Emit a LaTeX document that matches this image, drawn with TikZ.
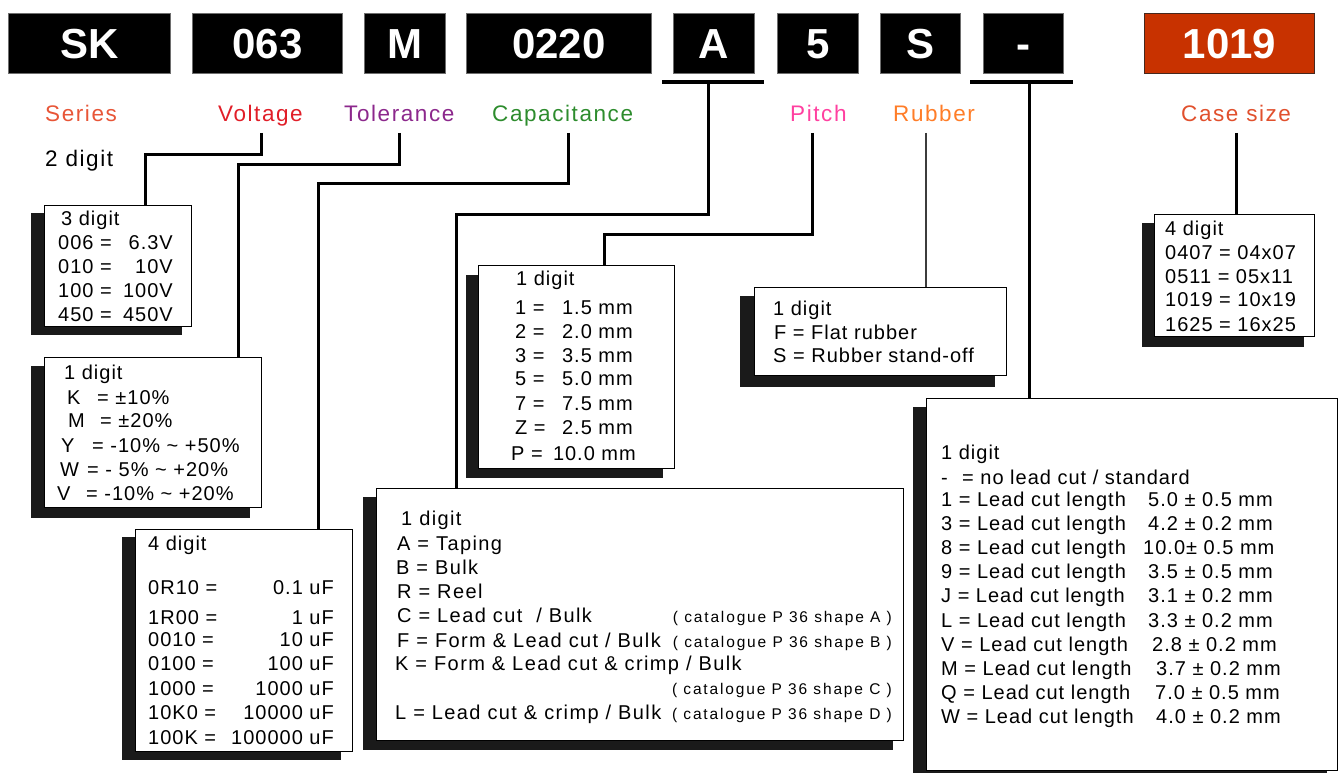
\documentclass[tikz,border=0pt]{standalone}
\usepackage{fontspec}
\setmainfont{Liberation Sans}
\newfontfamily\boxf[LetterSpace=5]{Liberation Sans}
\newfontfamily\pkgf[LetterSpace=7]{Liberation Sans}
\newfontfamily\lblf[LetterSpace=7]{Liberation Sans}
\newfontfamily\smallf[LetterSpace=12]{Liberation Sans}
\definecolor{shadowc}{RGB}{26,26,26}
\definecolor{hdrborder}{RGB}{110,110,110}
\definecolor{casefill}{RGB}{200,50,0}
\definecolor{seriesc}{RGB}{232,85,55}
\definecolor{voltc}{RGB}{225,30,40}
\definecolor{tolc}{RGB}{140,40,140}
\definecolor{capc}{RGB}{45,140,45}
\definecolor{pitchc}{RGB}{255,64,160}
\definecolor{rubc}{RGB}{255,125,40}
\definecolor{casec}{RGB}{225,80,45}
\tikzset{
  hdr/.style={draw=hdrborder, line width=1pt, fill=black, text=white,
    font=\fontsize{42}{42}\selectfont\bfseries, text height=30.5pt, text depth=0pt,
    inner sep=0pt, anchor=north west, minimum height=60pt},
  panel/.style={draw=black, line width=1.3pt, fill=white, anchor=north west, inner sep=0pt},
  shade/.style={fill=shadowc},
  lbl/.style={font=\lblf\fontsize{22.5}{24}\selectfont, anchor=base west, inner sep=0pt},
  bt/.style={font=\boxf\fontsize{20}{24}\selectfont, anchor=base west, inner sep=0pt},
  btr/.style={bt, anchor=base east},
  pt/.style={font=\pkgf\fontsize{20}{24}\selectfont, anchor=base west, inner sep=0pt},
  sm/.style={font=\smallf\fontsize{15.5}{17}\selectfont, anchor=base east, inner sep=0pt},
  conn/.style={line width=3pt},
  thinconn/.style={line width=1.5pt, draw={rgb,255:red,60;green,60;blue,60}},
  bar/.style={line width=4pt}
}
\begin{document}
\begin{tikzpicture}[x=1pt,y=-1pt]
\useasboundingbox (0,0) rectangle (1338,773);
\fill[white] (0,0) rectangle (1338,773);

% header boxes
\node[hdr, minimum width=162pt] (hSK) at (8,13) {SK};
\node[hdr, minimum width=150pt] (hV) at (192,13) {063};
\node[hdr, minimum width=81pt] (hT) at (364,13) {M};
\node[hdr, minimum width=185pt] (hC) at (466,13) {0220};
\node[hdr, minimum width=81pt] (hA) at (673,13) {A};
\node[hdr, minimum width=81pt] (hP) at (777,13) {5};
\node[hdr, minimum width=80pt] (hR) at (880,13) {S};
\node[hdr, minimum width=80pt] (hD) at (983,13) {-};
\node[hdr, minimum width=170pt, fill=casefill, draw={rgb,255:red,70;green,40;blue,30}] (hK) at (1144,13) {1019};

% labels
\node[lbl, text=seriesc] (lS) at (45,122) {Series};
\node[lbl, text=voltc] (lV) at (218,122) {Voltage};
\node[lbl, text=tolc] (lT) at (344,122) {Tolerance};
\node[lbl, text=capc] (lC) at (492,122) {Capacitance};
\node[lbl, text=pitchc] (lP) at (790,122) {Pitch};
\node[lbl, text=rubc] (lR) at (893,122) {Rubber};
\node[lbl, text=casec] (lK) at (1181,122) {Case size};
\node[lbl, text=black] (l2) at (45,166) {2 digit};

% shadows
\fill[shade] (31,213) rectangle (182,335);
\fill[shade] (31,366) rectangle (250,518);
\fill[shade] (122,537) rectangle (341,760);
\fill[shade] (466,275) rectangle (663,478);
\fill[shade] (740,296) rectangle (995,387);
\fill[shade] (1142,223) rectangle (1304,347);
\fill[shade] (913,407) rectangle (1327,773);
\fill[shade] (363,497) rectangle (893,750);

% panels
\node[panel, minimum width=147pt, minimum height=121pt] (vbox) at (44,205) {};
\node[panel, minimum width=217pt, minimum height=150pt] (tbox) at (44,357) {};
\node[panel, minimum width=217pt, minimum height=222pt] (cbox) at (135,529) {};
\node[panel, minimum width=196pt, minimum height=203pt] (pbox) at (478,265) {};
\node[panel, minimum width=252pt, minimum height=88pt] (rbox) at (754,287) {};
\node[panel, minimum width=160pt, minimum height=122pt] (kbox) at (1154,214) {};
\node[panel, minimum width=411pt, minimum height=372pt] (lbox) at (926,398) {};
\node[panel, minimum width=527pt, minimum height=252pt] (abox) at (376,488) {};

% connectors
\coordinate (vA) at (261,133); \coordinate (vB) at (145,154);
\draw[conn] (vA) |- (vB) -- (vB |- vbox.north);
\coordinate (tA) at (399,133); \coordinate (tB) at (238,164);
\draw[conn] (tA) |- (tB) -- (tB |- tbox.north);
\coordinate (cA) at (568,133); \coordinate (cB) at (318,183);
\draw[conn] (cA) |- (cB) -- (cB |- cbox.north);
\coordinate (aL) at (662,82); \coordinate (aR) at (764,82);
\draw[bar] (aL) -- (aR);
\coordinate (aA) at (708,82); \coordinate (aB) at (456,214);
\draw[conn] (aA) |- (aB) -- (aB |- abox.north);
\coordinate (pA) at (812,133); \coordinate (pB) at (604,234);
\draw[conn] (pA) |- (pB) -- (pB |- pbox.north);
\coordinate (rA) at (926,133);
\draw[thinconn] (rA) -- (rA |- rbox.north);
\coordinate (dL) at (970,82); \coordinate (dR) at (1073,82);
\draw[bar] (dL) -- (dR);
\coordinate (dA) at (1029,82);
\draw[conn] (dA) -- (dA |- lbox.north);
\coordinate (kA) at (1236,133);
\draw[conn] (kA) -- (kA |- kbox.north);

% voltage box text
\node[bt] (v0) at (61,225) {3 digit};
\foreach \a/\b [count=\i] in {006 =/6.3V, 010 =/10V, 100 =/100V, 450 =/450V} {
  \node[bt] (va\i) at (58,{249+(\i-1)*24.3}) {\a};
  \node[btr] (vb\i) at (173,{249+(\i-1)*24.3}) {\b};
}

% tolerance box text
\node[bt] (t0) at (64,379) {1 digit};
\node[bt] (ta1) at (67,404) {K}; \node[bt] (tb1) at (97,404) {= ±10\%};
\node[bt] (ta2) at (68,427) {M}; \node[bt] (tb2) at (100,427) {= ±20\%};
\node[bt] (ta3) at (61,452) {Y}; \node[bt] (tb3) at (92,452) {= -10\% \textasciitilde\ +50\%};
\node[bt] (ta4) at (60,476) {W}; \node[bt] (tb4) at (87,476) {= - 5\% \textasciitilde\ +20\%};
\node[bt] (ta5) at (57,500) {V}; \node[bt] (tb5) at (86,500) {= -10\% \textasciitilde\ +20\%};

% capacitance box text
\node[bt] (c0) at (148,550) {4 digit};
\foreach \a/\b/\y [count=\i] in {0R10 =/0.1 uF/594, 1R00 =/1 uF/624, 0010 =/10 uF/646, 0100 =/100 uF/670, 1000 =/1000 uF/695, 10K0 =/10000 uF/719, 100K =/100000 uF/744} {
  \node[bt] (ca\i) at (148,\y) {\a};
  \node[btr] (cb\i) at (334,\y) {\b};
}

% pitch box text
\node[bt] (p0) at (516,285) {1 digit};
\foreach \a/\b/\y [count=\i] in {1 =/1.5 mm/314, 2 =/2.0 mm/338, 3 =/3.5 mm/362, 5 =/5.0 mm/385, 7 =/7.5 mm/410, Z =/2.5 mm/434} {
  \node[bt] (pa\i) at (515,\y) {\a};
  \node[btr] (pb\i) at (633,\y) {\b};
}
\node[bt] (pa7) at (511,460) {P =};
\node[btr] (pb7) at (636,460) {10.0 mm};

% rubber box text
\node[bt] (r0) at (773,315) {1 digit};
\node[bt] (r1) at (774,339) {F = Flat rubber};
\node[bt] (r2) at (773,362) {S = Rubber stand-off};

% case size box text
\node[bt] (k0) at (1165,235) {4 digit};
\node[bt] (k1) at (1165,259) {0407 = 04x07};
\node[bt] (k2) at (1165,283) {0511 = 05x11};
\node[bt] (k3) at (1165,306) {1019 = 10x19};
\node[bt] (k4) at (1165,331) {1625 = 16x25};

% lead cut box text
\node[bt] (m0) at (941,459) {1 digit};
\node[bt] (mda) at (941,484) {-};
\node[bt] (mdb) at (962,484) {= no lead cut / standard};
\foreach \k/\v/\vx [count=\i] in {1/{5.0 ± 0.5 mm}/1148, 3/{4.2 ± 0.2 mm}/1148, 8/{10.0± 0.5 mm}/1143, 9/{3.5 ± 0.5 mm}/1148, J/{3.1 ± 0.2 mm}/1148, L/{3.3 ± 0.2 mm}/1148, V/{2.8 ± 0.2 mm}/1152, M/{3.7 ± 0.2 mm}/1156, Q/{7.0 ± 0.5 mm}/1155, W/{4.0 ± 0.2 mm}/1156} {
  \node[bt] (mk\i) at (941,{506+(\i-1)*24.2}) {\k\ = Lead cut length};
  \node[bt] (mv\i) at (\vx,{506+(\i-1)*24.2}) {\v};
}

% packaging box text
\node[pt] (a0) at (401,525) {1 digit};
\node[pt] (a1) at (397,550) {A = Taping};
\node[pt] (a2) at (396,574) {B = Bulk};
\node[pt] (a3) at (397,598) {R = Reel};
\node[pt] (a4) at (397,622) {C = Lead cut\ \ / Bulk};
\node[pt] (a5) at (397,647) {F = Form \& Lead cut / Bulk};
\node[pt] (a6) at (395,670) {K = Form \& Lead cut \& crimp / Bulk};
\node[pt] (a7) at (395,719) {L = Lead cut \& crimp / Bulk};
\node[sm] (s1) at (892,622) {( catalogue P 36 shape A )};
\node[sm] (s2) at (892,647) {( catalogue P 36 shape B )};
\node[sm] (s3) at (892,694) {( catalogue P 36 shape C )};
\node[sm] (s4) at (892,719) {( catalogue P 36 shape D )};
\end{tikzpicture}
\end{document}
